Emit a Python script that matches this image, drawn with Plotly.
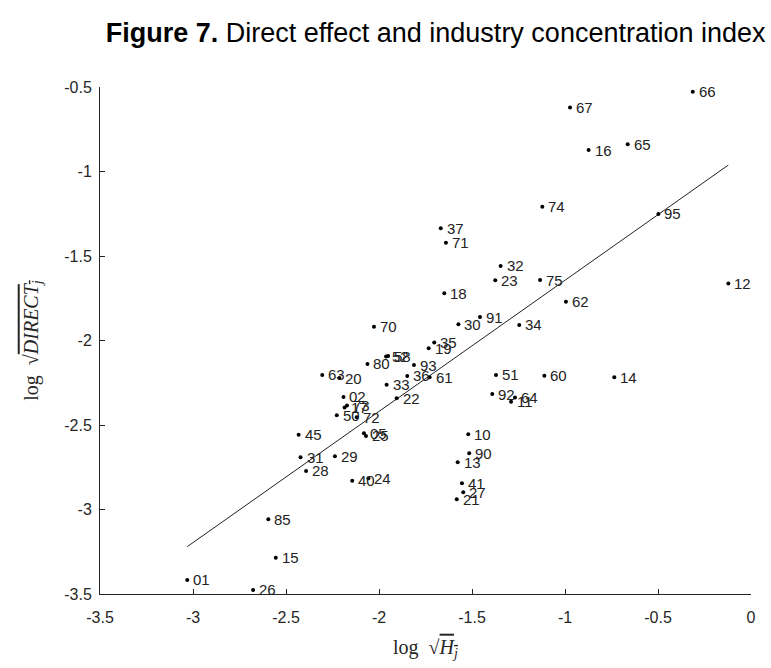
import plotly.graph_objects as go

labels = ["01","26","15","85","31","28","29","40","24","45","05","25","50","72","17","73","02","63","20","80","52","58",
          "33","22","36","93","61","19","35","70","30","91","34","51","60","14","92","64","11","10","90","13","41","27","21",
          "18","62","12","23","75","32","71","37","95","74","65","16","67","66"]
log_h = [-3.031,-2.677,-2.555,-2.595,-2.422,-2.392,-2.237,-2.144,-2.057,-2.432,-2.081,-2.070,-2.227,-2.120,-2.185,-2.172,
         -2.191,-2.305,-2.213,-2.062,-1.962,-1.951,-1.959,-1.905,-1.848,-1.812,-1.728,-1.733,-1.703,-2.027,-1.573,-1.457,
         -1.246,-1.371,-1.111,-0.735,-1.391,-1.269,-1.290,-1.520,-1.515,-1.577,-1.554,-1.547,-1.582,
         -1.649,-0.995,-0.122,-1.375,-1.134,-1.346,-1.640,-1.668,-0.498,-1.122,-0.663,-0.873,-0.973,-0.313]
log_direct = [-3.417,-3.476,-3.285,-3.058,-2.691,-2.772,-2.685,-2.830,-2.815,-2.557,-2.549,-2.565,-2.443,-2.454,-2.396,-2.385,
              -2.334,-2.204,-2.222,-2.139,-2.095,-2.092,-2.262,-2.342,-2.210,-2.145,-2.218,-2.046,-2.012,-1.918,-1.904,-1.861,
              -1.908,-2.204,-2.208,-2.218,-2.317,-2.338,-2.362,-2.555,-2.667,-2.721,-2.845,-2.898,-2.940,
              -1.721,-1.770,-1.662,-1.644,-1.642,-1.559,-1.421,-1.336,-1.251,-1.208,-0.839,-0.873,-0.622,-0.528]

fit_x = [-3.031, -0.122]
fit_y = [-3.220, -0.962]

x_ticks = [-3.5, -3, -2.5, -2, -1.5, -1, -0.5, 0]
x_ticktext = ["-3.5", "-3", "-2.5", "-2", "-1.5", "-1", "-0.5", "0"]
y_ticks = [-3.5, -3, -2.5, -2, -1.5, -1, -0.5]
y_ticktext = ["-3.5", "-3", "-2.5", "-2", "-1.5", "-1", "-0.5"]

axis_col = "#262626"
font_sans = "Liberation Sans, Arial, sans-serif"
font_serif = "Liberation Serif, Times New Roman, serif"

fig = go.Figure()
fig.add_trace(go.Scatter(x=fit_x, y=fit_y, mode="lines",
                         line=dict(color="#222222", width=1), hoverinfo="skip", showlegend=False))
fig.add_trace(go.Scatter(x=log_h, y=log_direct, mode="markers",
                         marker=dict(color="black", size=4), showlegend=False))

for xv, yv, t in zip(log_h, log_direct, labels):
    fig.add_annotation(x=xv, y=yv, text=t, showarrow=False, xanchor="left", yanchor="middle",
                       xshift=4, font=dict(family=font_sans, size=15, color="#222222"))

fig.update_layout(
    width=771, height=668,
    margin=dict(l=100, r=20, t=87, b=74),
    paper_bgcolor="white", plot_bgcolor="white",
    title=dict(text="<b>Figure 7.</b> Direct effect and industry concentration index",
               x=0.565, xanchor="center", y=1 - 33 / 668, yanchor="middle",
               font=dict(family=font_sans, size=27, color="black")),
    xaxis=dict(range=[-3.5, 0], tickvals=x_ticks, ticktext=x_ticktext,
               showgrid=False, zeroline=False, showline=True, linecolor=axis_col, linewidth=1,
               ticks="inside", ticklen=5, tickcolor=axis_col, ticklabelstandoff=9,
               tickfont=dict(family=font_sans, size=16, color=axis_col),
               title=dict(text="log  √<span style='text-decoration:overline'><i>H<sub>j</sub></i></span>",
                          font=dict(family=font_serif, size=20, color=axis_col), standoff=14)),
    yaxis=dict(range=[-3.5, -0.5], tickvals=y_ticks, ticktext=y_ticktext,
               showgrid=False, zeroline=False, showline=True, linecolor=axis_col, linewidth=1,
               ticks="inside", ticklen=5, tickcolor=axis_col, ticklabelstandoff=4,
               tickfont=dict(family=font_sans, size=16, color=axis_col),
               title=dict(text="log  √<span style='text-decoration:overline'><i>DIRECT<sub>j</sub></i></span>",
                          font=dict(family=font_serif, size=20, color=axis_col), standoff=20)),
)

fig.write_html("out.html")
